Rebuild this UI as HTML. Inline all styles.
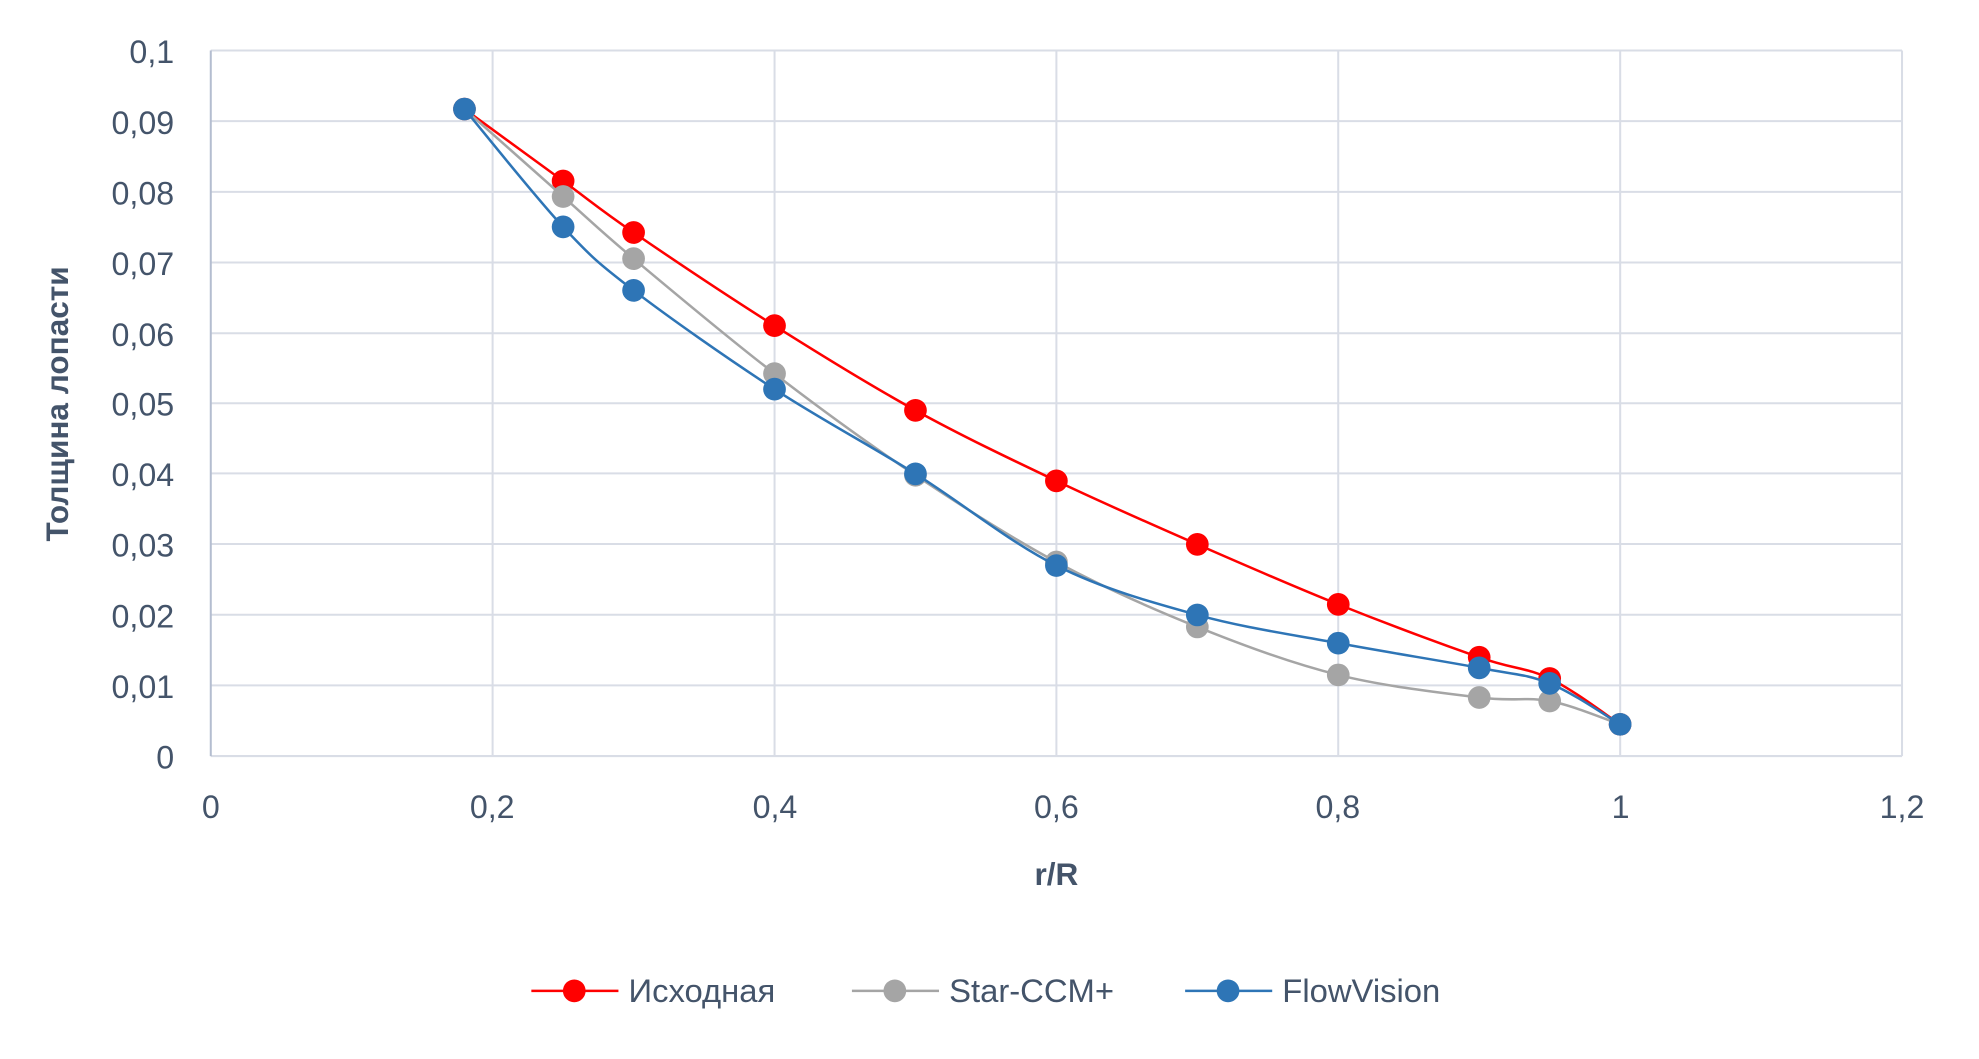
<!DOCTYPE html>
<html><head><meta charset="utf-8"><style>html,body{margin:0;padding:0;background:#fff}svg{display:block}</style></head>
<body>
<svg id="c" width="1979" height="1059" viewBox="0 0 1568 839" preserveAspectRatio="none" xmlns="http://www.w3.org/2000/svg" font-family="'Liberation Sans', sans-serif">
<g stroke="#d9dde6" stroke-width="1.6" fill="none">
<line x1="167" y1="40" x2="1507" y2="40"/><line x1="167" y1="96" x2="1507" y2="96"/><line x1="167" y1="152" x2="1507" y2="152"/><line x1="167" y1="208" x2="1507" y2="208"/><line x1="167" y1="264" x2="1507" y2="264"/><line x1="167" y1="319.5" x2="1507" y2="319.5"/><line x1="167" y1="375" x2="1507" y2="375"/><line x1="167" y1="431" x2="1507" y2="431"/><line x1="167" y1="487" x2="1507" y2="487"/><line x1="167" y1="543" x2="1507" y2="543"/><line x1="167" y1="599" x2="1507" y2="599"/>
<line x1="390.3" y1="40" x2="390.3" y2="599"/><line x1="613.7" y1="40" x2="613.7" y2="599"/><line x1="837" y1="40" x2="837" y2="599"/><line x1="1060.3" y1="40" x2="1060.3" y2="599"/><line x1="1283.7" y1="40" x2="1283.7" y2="599"/><line x1="1507" y1="40" x2="1507" y2="599"/>
</g>
<line x1="167" y1="40" x2="167" y2="599" stroke="#b4bdd0" stroke-width="1.6"/>
<g fill="#44546a" font-size="25.5" text-anchor="end">
<text x="138" y="50">0,1</text><text x="138" y="106">0,09</text><text x="138" y="162">0,08</text><text x="138" y="218">0,07</text><text x="138" y="274">0,06</text><text x="138" y="329">0,05</text><text x="138" y="385">0,04</text><text x="138" y="441">0,03</text><text x="138" y="497">0,02</text><text x="138" y="553">0,01</text><text x="138" y="609">0</text>
</g>
<g fill="#44546a" font-size="25.5" text-anchor="middle">
<text x="167" y="648">0</text><text x="390" y="648">0,2</text><text x="614" y="648">0,4</text><text x="837" y="648">0,6</text><text x="1060" y="648">0,8</text><text x="1284" y="648">1</text><text x="1507" y="648">1,2</text>
</g>
<text x="837" y="701" fill="#44546a" font-size="25" font-weight="bold" text-anchor="middle">r/R</text>
<text transform="translate(54,320) rotate(-90)" fill="#44546a" font-size="25" font-weight="bold" text-anchor="middle">Толщина лопасти</text>
<g id="series"></g>
<g font-size="26" fill="#44546a">
<line x1="421" y1="785" x2="490" y2="785" stroke="#ff0000" stroke-width="2"/><circle cx="455" cy="785" r="9" fill="#ff0000"/><text x="498" y="794">Исходная</text>
<line x1="675" y1="785" x2="744" y2="785" stroke="#a5a5a5" stroke-width="2"/><circle cx="709" cy="785" r="9" fill="#a5a5a5"/><text x="752" y="794">Star-CCM+</text>
<line x1="939" y1="785" x2="1008" y2="785" stroke="#2e75b6" stroke-width="2"/><circle cx="973" cy="785" r="9" fill="#2e75b6"/><text x="1016" y="794">FlowVision</text>
</g>
</svg>
<script>
var X=function(v){return 167+v/1.2*1340},Y=function(v){return 599-v*5590};
var xs=[0.18,0.25,0.3,0.4,0.5,0.6,0.7,0.8,0.9,0.95,1];
var S=[["#ff0000",[0.0917,0.0815,0.0742,0.061,0.049,0.039,0.030,0.0215,0.014,0.011,0.0045]],
["#a5a5a5",[0.0917,0.0793,0.0705,0.0542,0.0398,0.0275,0.0183,0.0115,0.0083,0.0078,0.0045]],
["#2e75b6",[0.0917,0.075,0.066,0.052,0.040,0.027,0.020,0.016,0.0125,0.0103,0.0045]]];
var g=document.getElementById('series'),h='';
S.forEach(function(s){var p=xs.map(function(x,i){return[X(x),Y(s[1][i])]});
var d='M'+p[0][0]+','+p[0][1];
for(var i=0;i<p.length-1;i++){var p0=p[i-1]||p[i],p1=p[i],p2=p[i+1],p3=p[i+2]||p2,t=1/6;
d+=' C'+(p1[0]+(p2[0]-p0[0])*t)+','+(p1[1]+(p2[1]-p0[1])*t)+' '+(p2[0]-(p3[0]-p1[0])*t)+','+(p2[1]-(p3[1]-p1[1])*t)+' '+p2[0]+','+p2[1];}
h+='<path d="'+d+'" fill="none" stroke="'+s[0]+'" stroke-width="2"/>';
p.forEach(function(q){h+='<circle cx="'+q[0]+'" cy="'+q[1]+'" r="9" fill="'+s[0]+'"/>'});});
g.innerHTML=h;
</script>
</body></html>
